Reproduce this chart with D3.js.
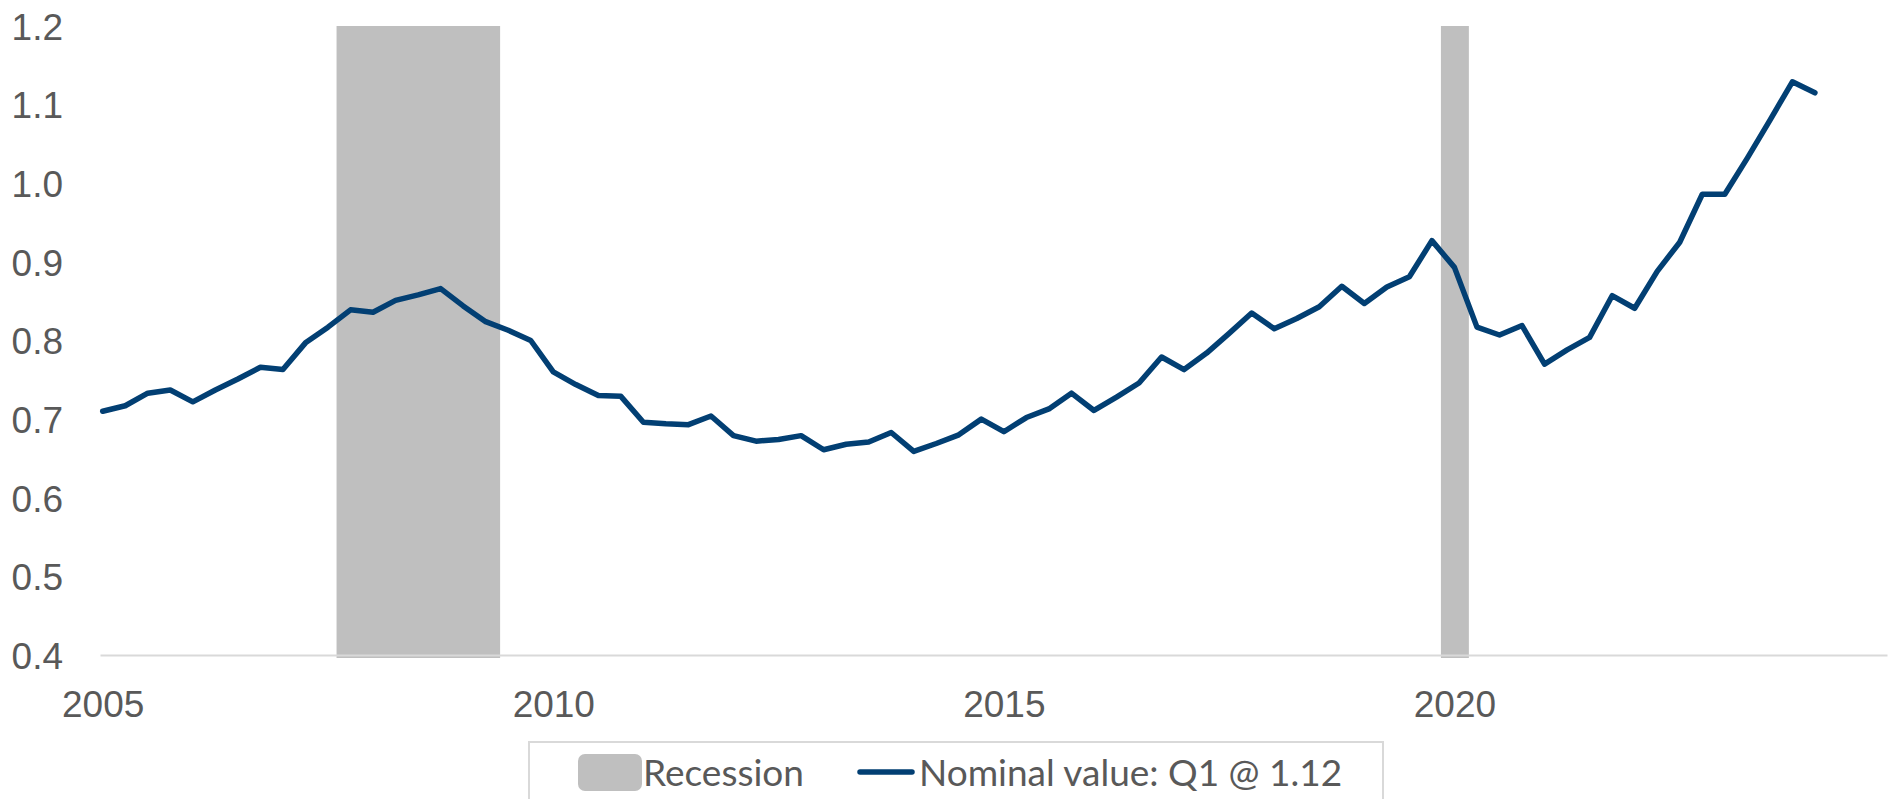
<!DOCTYPE html>
<html>
<head>
<meta charset="utf-8">
<script src="https://cdn.jsdelivr.net/npm/d3@7"></script>
<style>
  html, body { margin: 0; padding: 0; background: #fff; }
  svg { display: block; font-family: Lato, "Open Sans", sans-serif; }
</style>
</head>
<body>
<div id="chart"></div>
<script>
// quarterly series, 2005Q1 .. 2024Q1
var startYear = 2005;
var values = [
  0.710, 0.717, 0.733, 0.737, 0.722, 0.737, 0.751, 0.766, 0.763, 0.797,
  0.817, 0.839, 0.836, 0.851, 0.858, 0.866, 0.844, 0.824, 0.813, 0.800,
  0.760, 0.744, 0.730, 0.729, 0.696, 0.694, 0.693, 0.704, 0.679, 0.672,
  0.674, 0.679, 0.661, 0.668, 0.671, 0.683, 0.659, 0.669, 0.680, 0.700,
  0.684, 0.702, 0.713, 0.733, 0.711, 0.728, 0.746, 0.779, 0.763, 0.784,
  0.809, 0.835, 0.815, 0.828, 0.843, 0.869, 0.847, 0.868, 0.881, 0.927,
  0.893, 0.817, 0.807, 0.819, 0.770, 0.788, 0.804, 0.857, 0.841, 0.888,
  0.925, 0.986, 0.986, 1.032, 1.080, 1.129, 1.115
];
var recessions = [[2007.595, 2009.41], [2019.85, 2020.16]];
var yearTicks = [2005, 2010, 2015, 2020];
var valueTicks = [0.4, 0.5, 0.6, 0.7, 0.8, 0.9, 1.0, 1.1, 1.2];
var legendLabels = ["Recession", "Nominal value: Q1 @ 1.12"];

var width = 1892, height = 799;
var textColor = "#595959";
var lineColor = "#023f73";
var bandColor = "#bfbfbf";
var axisColor = "#d9d9d9";
var fontSize = "37px";

var svg = d3.select("#chart").append("svg")
  .attr("width", width)
  .attr("height", height);

var x = d3.scaleLinear().domain([2004.97, 2024.8]).range([100, 1887]);
var y = d3.scaleLinear().domain([0.4, 1.2]).range([655, 26]);

// recession bands
svg.append("g").selectAll("rect")
  .data(recessions)
  .enter().append("rect")
  .attr("x", function(d) { return x(d[0]); })
  .attr("width", function(d) { return x(d[1]) - x(d[0]); })
  .attr("y", y(1.2))
  .attr("height", y(0.4) - y(1.2) + 3)
  .attr("fill", bandColor);

// x axis
var xAxis = svg.append("g")
  .attr("transform", "translate(0," + y(0.4) + ")")
  .call(d3.axisBottom(x).tickValues(yearTicks).tickFormat(d3.format("d"))
    .tickSize(0).tickPadding(36));
xAxis.select(".domain").attr("stroke", axisColor).attr("stroke-width", 2);
xAxis.selectAll("text")
  .attr("fill", textColor)
  .attr("dy", "0.7em")
  .style("font-size", fontSize);

// y axis
var yAxis = svg.append("g")
  .attr("transform", "translate(63,0)")
  .call(d3.axisLeft(y).tickValues(valueTicks).tickFormat(d3.format(".1f"))
    .tickSize(0).tickPadding(0));
yAxis.select(".domain").remove();
yAxis.selectAll("text")
  .attr("fill", textColor)
  .attr("dy", "0.36em")
  .style("font-size", fontSize);

// series line
var line = d3.line()
  .x(function(d, i) { return x(startYear + i / 4); })
  .y(function(d) { return y(d); });

svg.append("path")
  .datum(values)
  .attr("d", line)
  .attr("fill", "none")
  .attr("stroke", lineColor)
  .attr("stroke-width", 5.5)
  .attr("stroke-linejoin", "round")
  .attr("stroke-linecap", "round");

// legend
var legend = svg.append("g");
legend.append("rect")
  .attr("x", 529).attr("y", 742)
  .attr("width", 854).attr("height", 90)
  .attr("fill", "#fff")
  .attr("stroke", axisColor)
  .attr("stroke-width", 2);
legend.append("rect")
  .attr("x", 578).attr("y", 754)
  .attr("width", 64).attr("height", 37)
  .attr("rx", 7)
  .attr("fill", bandColor);
legend.append("text")
  .attr("x", 643).attr("y", 786)
  .attr("fill", textColor)
  .style("font-size", fontSize)
  .text(legendLabels[0]);
legend.append("line")
  .attr("x1", 860).attr("x2", 912)
  .attr("y1", 772).attr("y2", 772)
  .attr("stroke", lineColor)
  .attr("stroke-width", 5.5)
  .attr("stroke-linecap", "round");
legend.append("text")
  .attr("x", 919).attr("y", 786)
  .attr("fill", textColor)
  .style("font-size", fontSize)
  .text(legendLabels[1]);
</script>
</body>
</html>
